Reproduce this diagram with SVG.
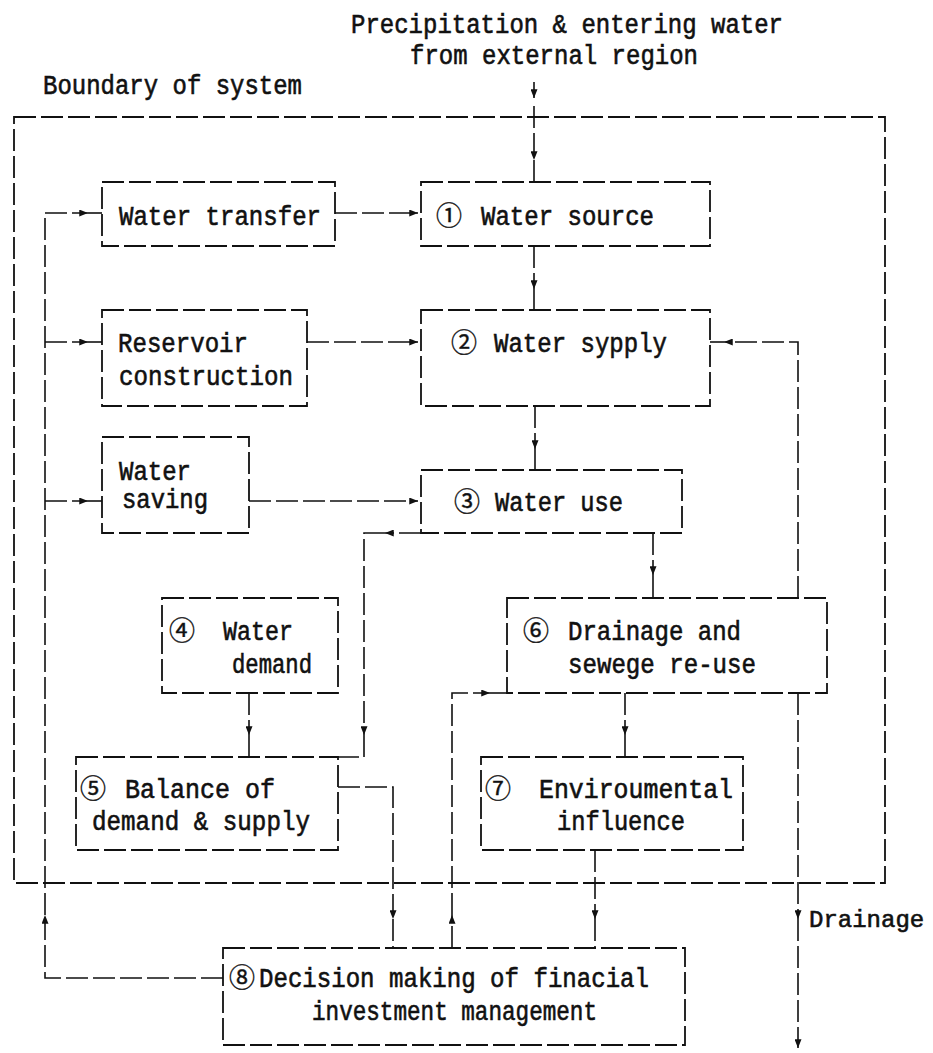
<svg xmlns="http://www.w3.org/2000/svg" width="933" height="1053" viewBox="0 0 933 1053">
<defs>
<style>
.bx{fill:none;stroke:#111;stroke-width:1.8;stroke-dasharray:22 5}
.cn path{fill:none;stroke:#111;stroke-width:1.6;stroke-dasharray:22 5}
.t{font-family:"Liberation Mono","DejaVu Sans Mono",monospace;font-size:27px;fill:#111;stroke:#111;stroke-width:0.6}
.c{font-family:"Noto Sans CJK JP","DejaVu Sans",sans-serif;font-size:26px;fill:#111;stroke:#111;stroke-width:0.4}
</style>
<marker id="ah" viewBox="0 0 10 8" refX="10" refY="4" markerWidth="9" markerHeight="7" markerUnits="userSpaceOnUse" orient="auto">
<path d="M0,0 L10,4 L0,8 z" fill="#111"/>
</marker>
</defs>
<rect width="933" height="1053" fill="#fff"/>

<g id="labels">
<text class="t" x="351" y="33" textLength="432" lengthAdjust="spacingAndGlyphs">Precipitation &amp; entering water</text>
<text class="t" x="410" y="64" textLength="288" lengthAdjust="spacingAndGlyphs">from external region</text>
<text class="t" x="43" y="94" textLength="259" lengthAdjust="spacingAndGlyphs">Boundary of system</text>
<text class="t" x="809" y="927" style="font-size:24px">Drainage</text>
</g>

<g id="boundary">
<path class="bx" d="M14,117 H885 V883 H14 Z"/>
</g>

<g id="water-transfer">
<rect class="bx" x="102" y="182" width="233" height="64"/>
<text class="t" x="119" y="225" textLength="202" lengthAdjust="spacingAndGlyphs">Water transfer</text>
</g>
<g id="water-source">
<rect class="bx" x="421" y="182" width="289" height="64"/>
<text class="c" x="436" y="225">①</text>
<text class="t" x="481" y="225" textLength="173" lengthAdjust="spacingAndGlyphs">Water source</text>
</g>
<g id="reservoir">
<rect class="bx" x="102" y="310" width="205" height="96"/>
<text class="t" x="118" y="352" textLength="130" lengthAdjust="spacingAndGlyphs">Reservoir</text>
<text class="t" x="119" y="385" textLength="174" lengthAdjust="spacingAndGlyphs">construction</text>
</g>
<g id="water-supply">
<rect class="bx" x="421" y="310" width="289" height="96"/>
<text class="c" x="451" y="352">②</text>
<text class="t" x="494" y="352" textLength="173" lengthAdjust="spacingAndGlyphs">Water sypply</text>
</g>
<g id="water-saving">
<rect class="bx" x="102" y="437" width="147" height="96"/>
<text class="t" x="119" y="480" textLength="72" lengthAdjust="spacingAndGlyphs">Water</text>
<text class="t" x="122" y="508" textLength="86" lengthAdjust="spacingAndGlyphs">saving</text>
</g>
<g id="water-use">
<rect class="bx" x="421" y="470" width="261" height="63"/>
<text class="c" x="454" y="511">③</text>
<text class="t" x="495" y="511" textLength="128" lengthAdjust="spacingAndGlyphs">Water use</text>
</g>
<g id="water-demand">
<rect class="bx" x="162" y="598" width="176" height="95"/>
<text class="c" x="169" y="640">④</text>
<text class="t" x="223" y="640" textLength="70" lengthAdjust="spacingAndGlyphs">Water</text>
<text class="t" x="232" y="673" textLength="80" lengthAdjust="spacingAndGlyphs">demand</text>
</g>
<g id="drainage-reuse">
<rect class="bx" x="507" y="598" width="320" height="95"/>
<text class="c" x="523" y="640">⑥</text>
<text class="t" x="568" y="640" textLength="173" lengthAdjust="spacingAndGlyphs">Drainage and</text>
<text class="t" x="568" y="673" textLength="188" lengthAdjust="spacingAndGlyphs">sewege re-use</text>
</g>
<g id="balance">
<rect class="bx" x="76" y="757" width="262" height="93"/>
<text class="c" x="80" y="798">⑤</text>
<text class="t" x="125" y="798" textLength="150" lengthAdjust="spacingAndGlyphs">Balance of</text>
<text class="t" x="92" y="830" textLength="218" lengthAdjust="spacingAndGlyphs">demand &amp; supply</text>
</g>
<g id="environmental">
<rect class="bx" x="481" y="757" width="262" height="93"/>
<text class="c" x="485" y="798">⑦</text>
<text class="t" x="539" y="798" textLength="194" lengthAdjust="spacingAndGlyphs">Enviroumental</text>
<text class="t" x="557" y="830" textLength="128" lengthAdjust="spacingAndGlyphs">influence</text>
</g>
<g id="decision">
<rect class="bx" x="223" y="948" width="462" height="97"/>
<text class="c" x="229" y="987">⑧</text>
<text class="t" x="259" y="987" textLength="390" lengthAdjust="spacingAndGlyphs">Decision making of finacial</text>
<text class="t" x="312" y="1020" textLength="285" lengthAdjust="spacingAndGlyphs">investment management</text>
</g>

<g id="connectors" class="cn">
<path d="M534,82 V98" marker-end="url(#ah)"/>
<path d="M534,106 V160" marker-end="url(#ah)"/>
<path d="M534,160 V182"/>
<path d="M335,213 H418" marker-end="url(#ah)"/>
<path d="M534,246 V289" marker-end="url(#ah)"/>
<path d="M534,289 V310"/>
<path d="M307,342 H418" marker-end="url(#ah)"/>
<path d="M535,406 V449" marker-end="url(#ah)"/>
<path d="M535,449 V470"/>
<path d="M249,501 H418" marker-end="url(#ah)"/>
<path d="M223,978 H45 V915" marker-end="url(#ah)"/>
<path d="M45,915 V213 H88" marker-end="url(#ah)"/>
<path d="M88,213 H102"/>
<path d="M45,342 H88" marker-end="url(#ah)"/>
<path d="M88,342 H102"/>
<path d="M45,501 H88" marker-end="url(#ah)"/>
<path d="M88,501 H102"/>
<path d="M421,533 H385" marker-end="url(#ah)"/>
<path d="M385,533 H364 V735" marker-end="url(#ah)"/>
<path d="M364,735 V757 H338"/>
<path d="M653,533 V575" marker-end="url(#ah)"/>
<path d="M653,575 V598"/>
<path d="M798,598 V342 H724" marker-end="url(#ah)"/>
<path d="M724,342 H710"/>
<path d="M798,693 V919" marker-end="url(#ah)"/>
<path d="M798,919 V1048" marker-end="url(#ah)"/>
<path d="M249,693 V735" marker-end="url(#ah)"/>
<path d="M249,735 V757"/>
<path d="M625,693 V735" marker-end="url(#ah)"/>
<path d="M625,735 V757"/>
<path d="M338,787 H393 V919" marker-end="url(#ah)"/>
<path d="M393,919 V948"/>
<path d="M452,948 V915" marker-end="url(#ah)"/>
<path d="M452,915 V693 H490" marker-end="url(#ah)"/>
<path d="M490,693 H507"/>
<path d="M595,850 V919" marker-end="url(#ah)"/>
<path d="M595,919 V948"/>
</g>
</svg>
